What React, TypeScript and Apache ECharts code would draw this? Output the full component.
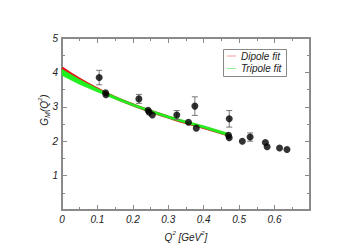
import React, { useEffect, useRef } from "react";
import * as echarts from "echarts";

const ptQ = [0.105, 0.123, 0.124, 0.217, 0.243, 0.246, 0.255, 0.324, 0.357, 0.375, 0.379, 0.472, 0.470, 0.472, 0.509, 0.531, 0.574, 0.579, 0.614, 0.635];
const ptG = [3.85, 3.41, 3.35, 3.23, 2.90, 2.84, 2.76, 2.76, 2.55, 3.02, 2.38, 2.65, 2.17, 2.10, 2.00, 2.12, 1.96, 1.84, 1.80, 1.76];
const ptErr = [0.21, 0, 0, 0.13, 0, 0, 0, 0.13, 0, 0.27, 0, 0.24, 0, 0, 0, 0.12, 0, 0, 0, 0];

const fitQ = [0, 0.05, 0.1, 0.15, 0.2, 0.25, 0.3, 0.35, 0.4, 0.47];
const dipole = [4.13, 3.80, 3.52, 3.27, 3.06, 2.87, 2.70, 2.54, 2.40, 2.18];
const tripUpper = [4.09, 3.79, 3.53, 3.30, 3.09, 2.91, 2.74, 2.59, 2.45, 2.23];
const tripLower = [3.91, 3.65, 3.43, 3.22, 3.02, 2.84, 2.67, 2.52, 2.38, 2.15];

const FONT = "Liberation Sans";
const AXIS = "#8a8a8a";

export default function App() {
  const ref = useRef<HTMLDivElement>(null);
  useEffect(() => {
    const chart = echarts.init(ref.current!, null, { renderer: "svg" });
    const errData = ptQ
      .map((q, i) => [q, ptG[i] - ptErr[i], ptG[i] + ptErr[i]])
      .filter((d, i) => ptErr[i] > 0);
    const axisCommon = {
      type: "value" as const,
      axisLine: { show: true, onZero: false, lineStyle: { color: AXIS, width: 2 } },
      axisTick: { show: true, inside: true, length: 5, lineStyle: { color: AXIS, width: 1 } },
      minorTick: { show: true, splitNumber: 2, length: 3, lineStyle: { color: AXIS, width: 1 } },
      splitLine: { show: false },
    };
    chart.setOption({
      animation: false,
      backgroundColor: "#fff",
      grid: { left: 62, right: 41, top: 38, bottom: 38 },
      xAxis: [
        {
          ...axisCommon,
          min: 0,
          max: 0.7,
          interval: 0.1,
          axisLabel: {
            show: true,
            margin: 4,
            fontFamily: FONT,
            fontStyle: "italic",
            fontSize: 10,
            color: "#222",
            formatter: (v: number) => (v >= 0.69 ? "" : String(Math.round(v * 10) / 10)),
          },
          name: "{a|Q}{s|2}{a| [GeV}{s|2}{a|]}",
          nameLocation: "middle",
          nameGap: 20,
          nameTextStyle: {
            rich: {
              a: { fontFamily: FONT, fontStyle: "italic", fontSize: 10, color: "#222", lineHeight: 14 },
              s: { fontFamily: FONT, fontStyle: "italic", fontSize: 6, color: "#222", verticalAlign: "top", lineHeight: 14 },
            },
          },
        },
        {
          ...axisCommon,
          position: "top",
          min: 0,
          max: 0.7,
          interval: 0.1,
          axisLabel: { show: false },
        },
      ],
      yAxis: [
        {
          ...axisCommon,
          min: 0,
          max: 5,
          interval: 1,
          axisLabel: {
            show: true,
            margin: 4,
            fontFamily: FONT,
            fontStyle: "italic",
            fontSize: 10,
            color: "#222",
            formatter: (v: number) => (v === 0 ? "" : String(v)),
          },
        },
        {
          ...axisCommon,
          position: "right",
          min: 0,
          max: 5,
          interval: 1,
          axisLabel: { show: false },
        },
      ],
      graphic: [
        {
          type: "text",
          x: 44,
          y: 110,
          rotation: Math.PI / 2,
          style: {
            text: "{a|G}{b|M}{a|(Q}{s|2}{a|)}",
            align: "center",
            verticalAlign: "middle",
            rich: {
              a: { fontFamily: FONT, fontStyle: "italic", fontSize: 10, fill: "#222", lineHeight: 14 },
              b: { fontFamily: FONT, fontStyle: "italic", fontSize: 7, fill: "#222", verticalAlign: "bottom", lineHeight: 14 },
              s: { fontFamily: FONT, fontStyle: "italic", fontSize: 6, fill: "#222", verticalAlign: "top", lineHeight: 14 },
            },
          },
        },
        {
          type: "rect",
          shape: { x: 223.5, y: 49.5, width: 63, height: 27 },
          style: { fill: "#fff", stroke: "#888", lineWidth: 1 },
          z: 100,
        },
        {
          type: "line",
          shape: { x1: 227, y1: 56, x2: 236, y2: 56 },
          style: { stroke: "#f79a9a", lineWidth: 1 },
          z: 101,
        },
        {
          type: "line",
          shape: { x1: 227, y1: 68.5, x2: 236, y2: 68.5 },
          style: { stroke: "#8fee8f", lineWidth: 1 },
          z: 101,
        },
        {
          type: "text",
          x: 241,
          y: 56,
          style: { text: "Dipole fit", fontFamily: FONT, fontStyle: "italic", fontSize: 10, fill: "#222", verticalAlign: "middle" },
          z: 101,
        },
        {
          type: "text",
          x: 241,
          y: 68.5,
          style: { text: "Tripole fit", fontFamily: FONT, fontStyle: "italic", fontSize: 10, fill: "#222", verticalAlign: "middle" },
          z: 101,
        },
      ],
      series: [
        {
          name: "Dipole fit",
          type: "line",
          data: fitQ.map((q, i) => [q, dipole[i]]),
          smooth: true,
          showSymbol: false,
          lineStyle: { color: "#e8141c", width: 3 },
          z: 2,
        },
        {
          name: "Tripole fit",
          type: "custom",
          data: [[0, 4]],
          z: 3,
          renderItem: (params: any, api: any) => {
            const up = fitQ.map((q, i) => api.coord([q, tripUpper[i]]));
            const lo = fitQ.map((q, i) => api.coord([q, tripLower[i]])).reverse();
            return {
              type: "polygon",
              shape: { points: up.concat(lo) },
              style: { fill: "#1ff01f", stroke: "#1ff01f", lineWidth: 0.5 },
            };
          },
        },
        {
          name: "errors",
          type: "custom",
          data: errData,
          z: 4,
          renderItem: (params: any, api: any) => {
            const x = api.value(0);
            const lo = api.coord([x, api.value(1)]);
            const hi = api.coord([x, api.value(2)]);
            const w = 3;
            const st = { stroke: "#777", lineWidth: 1 };
            return {
              type: "group",
              children: [
                { type: "line", shape: { x1: lo[0], y1: lo[1], x2: hi[0], y2: hi[1] }, style: st },
                { type: "line", shape: { x1: lo[0] - w, y1: lo[1], x2: lo[0] + w, y2: lo[1] }, style: st },
                { type: "line", shape: { x1: hi[0] - w, y1: hi[1], x2: hi[0] + w, y2: hi[1] }, style: st },
              ],
            };
          },
        },
        {
          name: "data",
          type: "scatter",
          data: ptQ.map((q, i) => [q, ptG[i]]),
          symbol: "circle",
          symbolSize: 7,
          itemStyle: { color: "#000" },
          z: 5,
        },
      ],
    });
    return () => chart.dispose();
  }, []);
  return (
    <div
      ref={ref}
      style={{ position: "fixed", left: 0, top: 0, width: 351, height: 248, background: "#fff" }}
    />
  );
}
